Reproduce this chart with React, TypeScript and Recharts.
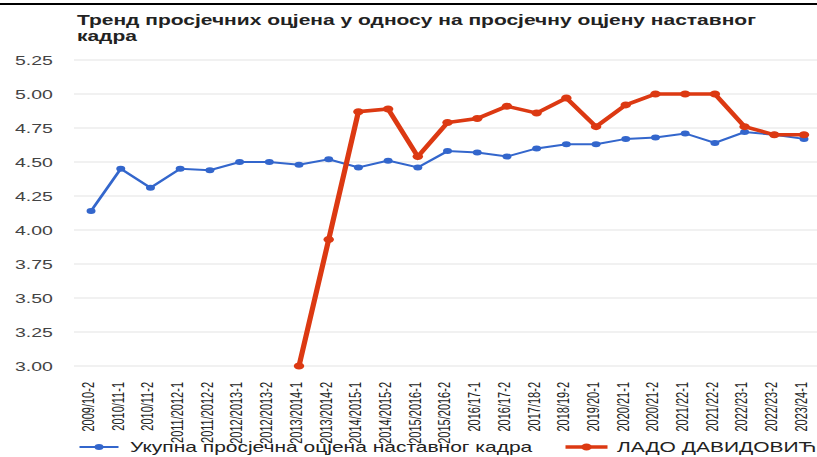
import React from 'react';
import { LineChart, Line, XAxis, YAxis, CartesianGrid, Legend } from 'recharts';

const categories = [
  '2009/10-2', '2010/11-1', '2010/11-2', '2011/2012-1', '2011/2012-2', '2012/2013-1', '2012/2013-2',
  '2013/2014-1', '2013/2014-2', '2014/2015-1', '2014/2015-2', '2015/2016-1', '2015/2016-2',
  '2016/17-1', '2016/17-2', '2017/18-2', '2018/19-2', '2019/20-1', '2020/21-1', '2020/21-2',
  '2021/22-1', '2021/22-2', '2022/23-1', '2022/23-2', '2023/24-1',
];

const overallAverage = [
  4.14, 4.45, 4.31, 4.45, 4.44, 4.50, 4.50, 4.48, 4.52, 4.46, 4.51, 4.46, 4.58,
  4.57, 4.54, 4.60, 4.63, 4.63, 4.67, 4.68, 4.71, 4.64, 4.72, 4.70, 4.67,
];

const ladoDavidovic: (number | null)[] = [
  null, null, null, null, null, null, null,
  3.00, 3.93, 4.87, 4.89, 4.54, 4.79, 4.82, 4.91, 4.86, 4.97, 4.76, 4.92,
  5.00, 5.00, 5.00, 4.76, 4.70, 4.70,
];

const yTicks = [3.0, 3.25, 3.5, 3.75, 4.0, 4.25, 4.5, 4.75, 5.0, 5.25];

const titleLines = ['Тренд просјечних оцјена у односу на просјечну оцјену наставног', 'кадра'];
const seriesNames = ['Укупна просјечна оцјена наставног кадра', 'ЛАДО ДАВИДОВИЋ'];

const BLUE = '#3366cc';
const RED = '#dc3912';
const FONT = '"Liberation Sans", Arial, sans-serif';

const data = categories.map((c, i) => ({
  cat: c,
  overall: overallAverage[i],
  lado: ladoDavidovic[i],
}));

const XTick = (props: any) => {
  const { x, y, payload } = props;
  return (
    <g transform={`translate(${x},${y})`}>
      <text
        transform="rotate(-90)"
        x={-16}
        y={-2}
        textAnchor="end"
        dominantBaseline="central"
        fontSize={11}
        fill="#222"
        fontFamily={FONT}
      >
        {payload.value}
      </text>
    </g>
  );
};

const LegendContent = () => (
  <svg width={548} height={24} style={{ display: 'block' }}>
    <line x1={53} x2={79} y1={14} y2={14} stroke={BLUE} strokeWidth={2} />
    <circle cx={66} cy={14} r={3} fill={BLUE} />
    <text x={86.7} y={18.7} fontSize={14} fill="#222" fontFamily={FONT}>{seriesNames[0]}</text>
    <line x1={377} x2={405} y1={14} y2={14} stroke={RED} strokeWidth={3.5} />
    <circle cx={391} cy={14} r={3.5} fill={RED} />
    <text x={411.3} y={18.7} fontSize={14} fill="#222" fontFamily={FONT}>{seriesNames[1]}</text>
  </svg>
);

export default function App() {
  return (
    <div style={{ position: 'absolute', left: 0, top: 0, width: 817, height: 457, overflow: 'hidden', background: '#fff' }}>
      <div style={{ position: 'absolute', left: 0, top: 3, width: 817, height: 2, background: '#000' }} />
      <div style={{ position: 'absolute', left: 0, top: 0, width: 548, height: 457, transform: 'scaleX(1.5)', transformOrigin: '0 0' }}>
        <svg width={548} height={50} style={{ position: 'absolute', left: 0, top: 0 }}>
          <text x={51.3} y={25.5} fontSize={14} fontWeight="bold" fill="#222" fontFamily={FONT}>{titleLines[0]}</text>
          <text x={51.3} y={41.5} fontSize={14} fontWeight="bold" fill="#222" fontFamily={FONT}>{titleLines[1]}</text>
        </svg>
        <LineChart width={548} height={457} data={data} margin={{ top: 60, right: 0, bottom: 0, left: 0 }}>
          <CartesianGrid vertical={false} stroke="#e3e3e3" strokeWidth={1} />
          <XAxis
            dataKey="cat"
            interval={0}
            tick={<XTick />}
            tickLine={false}
            axisLine={false}
            tickSize={0}
            tickMargin={0}
            height={67}
            padding={{ left: 11.4, right: 12 }}
          />
          <YAxis
            domain={[3, 5.25]}
            ticks={yTicks}
            interval={0}
            tickFormatter={(v: number) => v.toFixed(2)}
            tick={{ fontSize: 13, fill: '#444', fontFamily: FONT }}
            tickLine={false}
            axisLine={false}
            tickSize={0}
            tickMargin={14}
            width={49.3}
          />
          <Legend verticalAlign="bottom" height={24} width={548} wrapperStyle={{ left: 0, bottom: 0 }} content={<LegendContent />} />
          <Line
            type="linear"
            dataKey="overall"
            name={seriesNames[0]}
            stroke={BLUE}
            strokeWidth={2}
            dot={{ r: 3, fill: BLUE, stroke: 'none' }}
            activeDot={false}
            isAnimationActive={false}
          />
          <Line
            type="linear"
            dataKey="lado"
            name={seriesNames[1]}
            stroke={RED}
            strokeWidth={3.5}
            dot={{ r: 3.5, fill: RED, stroke: 'none' }}
            activeDot={false}
            connectNulls={false}
            isAnimationActive={false}
          />
        </LineChart>
      </div>
    </div>
  );
}
